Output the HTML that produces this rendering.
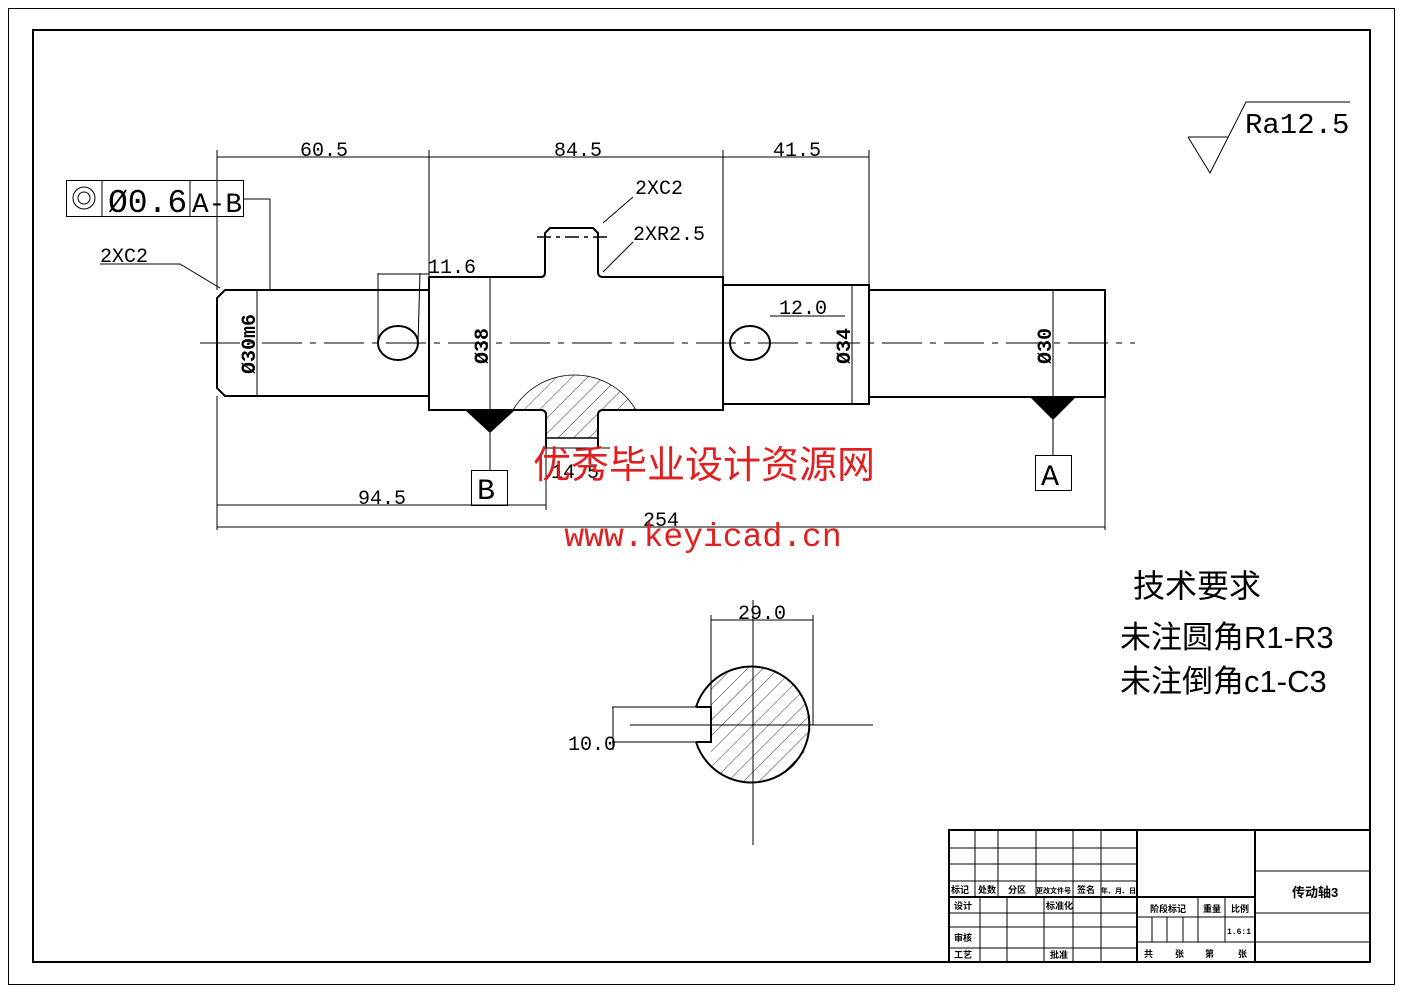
<!DOCTYPE html>
<html><head><meta charset="utf-8"><style>
html,body{margin:0;padding:0;background:#fff;}
svg{display:block;}
text{font-family:"Liberation Mono","Noto Serif CJK SC",monospace;fill:#000;}
.cj{font-family:"Liberation Sans","Noto Sans CJK SC",sans-serif;}
</style></head><body>
<svg width="1403" height="992" viewBox="0 0 1403 992" xmlns="http://www.w3.org/2000/svg">
<defs>
<pattern id="h" patternUnits="userSpaceOnUse" width="11" height="11" patternTransform="rotate(45)">
<line x1="0" y1="0" x2="0" y2="11" stroke="#000" stroke-width="0.8"/>
</pattern>
<clipPath id="cc"><circle cx="753" cy="725" r="58"/></clipPath>
</defs>
<rect x="8.5" y="8.5" width="1386" height="976" fill="none" stroke="#000" stroke-width="1"/>
<rect x="33" y="30" width="1337" height="932" fill="none" stroke="#000" stroke-width="2"/>

<line x1="200" y1="343" x2="1135" y2="343" stroke="#000" stroke-width="1" stroke-dasharray="40,8,6,8"/>

<g fill="none" stroke="#000" stroke-width="2">
<path d="M429 290 H225 L217 298 V388 L225 396 H429"/>
<path d="M429 277 V410 H513"/>
<path d="M429 277 H541 Q545 277 545 272 V233 L550 228 H593 L598 233 V272 Q598 277 603 277 H723 V410 H636"/>
<path d="M723 285 H869 V404 H723"/>
<path d="M869 290 H1105 V397 H869"/>
<ellipse cx="398" cy="343" rx="20" ry="17"/>
<ellipse cx="750" cy="343" rx="20" ry="17"/>
</g>
<path d="M513 410 A71.5 71.5 0 0 1 636 410 H603 Q598 410 598 415 V438 H546 V415 Q546 410 541 410 Z" fill="url(#h)" stroke="none"/>
<path d="M513 410 A71.5 71.5 0 0 1 636 410" fill="none" stroke="#000" stroke-width="0.8"/>
<path d="M513 410 H541 Q546 410 546 415 V448 M636 410 H603 Q598 410 598 415 V448" fill="none" stroke="#000" stroke-width="2"/>
<line x1="546" y1="438" x2="598" y2="438" stroke="#000" stroke-width="1.5"/>
<line x1="546" y1="448" x2="610" y2="448" stroke="#000" stroke-width="1"/>
<line x1="537" y1="237" x2="610" y2="237" stroke="#000" stroke-width="1.5" stroke-dasharray="14,5,4,5"/>

<g stroke="#000" stroke-width="1" fill="none">
<line x1="217" y1="157" x2="869" y2="157"/>
<line x1="217" y1="150" x2="217" y2="290"/>
<line x1="429" y1="150" x2="429" y2="277"/>
<line x1="723" y1="150" x2="723" y2="277"/>
<line x1="869" y1="150" x2="869" y2="285"/>
<line x1="217" y1="396" x2="217" y2="530"/>
<line x1="546" y1="448" x2="546" y2="510"/>
<line x1="1105" y1="397" x2="1105" y2="530"/>
<line x1="217" y1="505" x2="546" y2="505"/>
<line x1="217" y1="527" x2="1105" y2="527"/>
<line x1="378" y1="273" x2="378" y2="343"/>
<line x1="420" y1="273" x2="418" y2="343"/>
<line x1="378" y1="274" x2="429" y2="274"/>
<line x1="770" y1="316" x2="845" y2="316"/>
<line x1="257" y1="290" x2="257" y2="396"/>
<line x1="490" y1="277" x2="490" y2="410"/>
<line x1="852" y1="285" x2="852" y2="404"/>
<line x1="1053" y1="290" x2="1053" y2="397"/>
<line x1="490" y1="430" x2="490" y2="470"/>
<line x1="1053" y1="420" x2="1053" y2="455"/>
<polyline points="244,199 270,199 270,290"/>
<polyline points="100,264 180,264 220,288"/>
<line x1="633" y1="197" x2="603" y2="223"/>
<line x1="633" y1="242" x2="603" y2="272"/>
</g>
<polygon points="465,410 515,410 490,433" fill="#000"/>
<polygon points="1030,397 1076,397 1053,420" fill="#000"/>
<rect x="471.5" y="470.5" width="36" height="35" fill="none" stroke="#000"/>
<rect x="1035.5" y="455.5" width="36" height="35" fill="none" stroke="#000"/>
<text x="477" y="499" font-size="30">B</text>
<text x="1041" y="485" font-size="30">A</text>

<rect x="66.5" y="180.5" width="177" height="36" fill="none" stroke="#000"/>
<line x1="102" y1="180" x2="102" y2="216" stroke="#000"/>
<line x1="190" y1="180" x2="190" y2="216" stroke="#000"/>
<circle cx="84" cy="198" r="11" fill="none" stroke="#000"/>
<circle cx="84" cy="198" r="6" fill="none" stroke="#000"/>
<text x="108" y="212" font-size="33">Ø0.6</text>
<text x="192" y="212" font-size="28" textLength="50" lengthAdjust="spacingAndGlyphs">A-B</text>

<g font-size="20">
<text x="300" y="156">60.5</text>
<text x="554" y="156">84.5</text>
<text x="773" y="156">41.5</text>
<text x="100" y="262">2XC2</text>
<text x="635" y="194">2XC2</text>
<text x="633" y="240">2XR2.5</text>
<text x="428" y="273">11.6</text>
<text x="779" y="314">12.0</text>
<text x="358" y="504">94.5</text>
<text x="643" y="526">254</text>
<text x="551" y="478">14.5</text>
<text x="738" y="619">29.0</text>
<text x="568" y="750">10.0</text>
<text transform="translate(255,374) rotate(-90)" font-weight="bold">Ø30m6</text>
<text transform="translate(488,364) rotate(-90)" font-weight="bold">Ø38</text>
<text transform="translate(850,364) rotate(-90)" font-weight="bold">Ø34</text>
<text transform="translate(1051,364) rotate(-90)" font-weight="bold">Ø30</text>
</g>

<polyline points="1188,137 1210,173 1246,102 1350,102" fill="none" stroke="#000" stroke-width="1"/>
<line x1="1188" y1="137" x2="1228" y2="137" stroke="#000"/>
<text x="1245" y="133" font-size="29">Ra12.5</text>

<text class="cj" x="704" y="478" font-size="38" style="fill:#e02020" text-anchor="middle">优秀毕业设计资源网</text>
<text x="703" y="546" font-size="33" style="fill:#e02020" text-anchor="middle">www.keyicad.cn</text>

<text class="cj" x="1133" y="597" font-size="32">技术要求</text>
<text class="cj" x="1120" y="648" font-size="31">未注圆角R1-R3</text>
<text class="cj" x="1120" y="692" font-size="31">未注倒角c1-C3</text>

<g clip-path="url(#cc)"><rect x="711" y="660" width="110" height="130" fill="url(#h)"/></g>
<path d="M696 707 A58 58 0 1 1 696 742" fill="none" stroke="#000" stroke-width="2"/>
<path d="M696 707 H711 V742 H696" fill="none" stroke="#000" stroke-width="2"/>
<g stroke="#000" stroke-width="1" fill="none">
<line x1="612" y1="707" x2="696" y2="707"/>
<line x1="612" y1="742" x2="696" y2="742"/>
<line x1="613" y1="707" x2="613" y2="750"/>
<line x1="630" y1="725" x2="873" y2="725"/>
<line x1="753" y1="600" x2="753" y2="845"/>
<line x1="711" y1="620" x2="813" y2="620"/>
<line x1="711" y1="615" x2="711" y2="707"/>
<line x1="813" y1="615" x2="813" y2="725"/>
</g>

<g stroke="#000" fill="none">
<rect x="949" y="830" width="421" height="132" stroke-width="2"/>
<g stroke-width="1">
<line x1="1137" y1="830" x2="1137" y2="962" stroke-width="2"/>
<line x1="1255" y1="830" x2="1255" y2="962" stroke-width="2"/>
<line x1="949" y1="848" x2="1137" y2="848"/>
<line x1="949" y1="864" x2="1137" y2="864"/>
<line x1="949" y1="881" x2="1137" y2="881"/>
<line x1="949" y1="897" x2="1255" y2="897" stroke-width="2"/>
<line x1="949" y1="913" x2="1137" y2="913"/>
<line x1="949" y1="927" x2="1137" y2="927"/>
<line x1="949" y1="948" x2="1137" y2="948"/>
<line x1="1137" y1="917" x2="1255" y2="917"/>
<line x1="1137" y1="942" x2="1255" y2="942"/>
<line x1="1255" y1="871" x2="1370" y2="871"/>
<line x1="1255" y1="913" x2="1370" y2="913"/>
<line x1="1255" y1="942" x2="1370" y2="942"/>
<line x1="975" y1="830" x2="975" y2="897"/>
<line x1="998" y1="830" x2="998" y2="897"/>
<line x1="1036" y1="830" x2="1036" y2="897"/>
<line x1="1073" y1="830" x2="1073" y2="962"/>
<line x1="1101" y1="830" x2="1101" y2="962"/>
<line x1="980" y1="897" x2="980" y2="962"/>
<line x1="1007" y1="897" x2="1007" y2="962"/>
<line x1="1044" y1="897" x2="1044" y2="962"/>
<line x1="1198" y1="897" x2="1198" y2="942"/>
<line x1="1225" y1="897" x2="1225" y2="942"/>
<line x1="1152" y1="917" x2="1152" y2="942"/>
<line x1="1167" y1="917" x2="1167" y2="942"/>
<line x1="1183" y1="917" x2="1183" y2="942"/>
</g></g>
<g font-size="9" font-weight="bold">
<text class="cj" x="951" y="893">标记</text>
<text class="cj" x="978" y="893">处数</text>
<text class="cj" x="1008" y="893">分区</text>
<text class="cj" x="1036" y="893" font-size="7">更改文件号</text>
<text class="cj" x="1077" y="893">签名</text>
<text class="cj" x="1101" y="893" font-size="7">年、月、日</text>
<text class="cj" x="954" y="909">设计</text>
<text class="cj" x="1046" y="909">标准化</text>
<text class="cj" x="954" y="941">审核</text>
<text class="cj" x="954" y="958">工艺</text>
<text class="cj" x="1050" y="958">批准</text>
<text class="cj" x="1150" y="912">阶段标记</text>
<text class="cj" x="1203" y="912">重量</text>
<text class="cj" x="1231" y="912">比例</text>
<text x="1227" y="934" font-size="8">1.6:1</text>
<text class="cj" x="1144" y="957">共</text>
<text class="cj" x="1175" y="957">张</text>
<text class="cj" x="1205" y="957">第</text>
<text class="cj" x="1238" y="957">张</text>
<text class="cj" x="1292" y="897" font-size="13">传动轴3</text>
</g>
</svg>
</body></html>
